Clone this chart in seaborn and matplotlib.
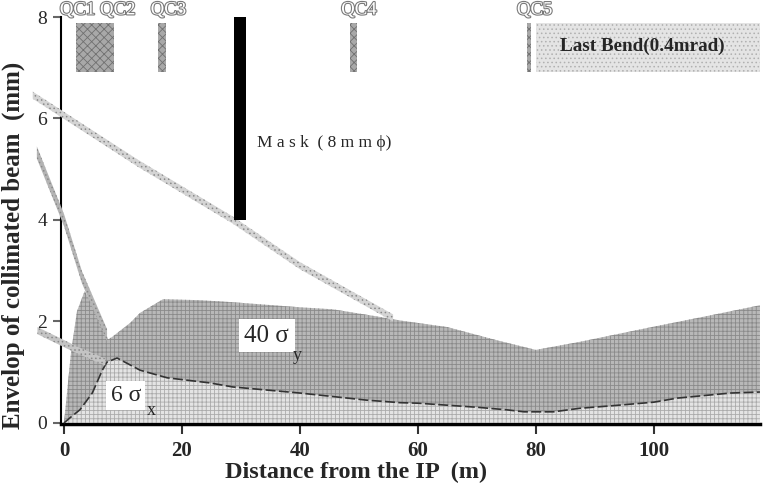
import numpy as np
import matplotlib
matplotlib.use("Agg")
import matplotlib.pyplot as plt
import matplotlib.patheffects as pe
import seaborn as sns

# 40 sigma_y envelope (mm) against distance from the IP (m)
sy_dist = [0, 1.2, 2.2, 3.5, 5.0, 7.5, 8.1, 11.2, 12.9, 16.8, 23, 28.6, 40, 45.6,
           53.6, 57, 65, 73.4, 80, 87.5, 98.8, 110, 118]
sy_env = [0, 1.4, 2.2, 2.6, 2.3, 1.65, 1.69, 1.97, 2.17, 2.44, 2.42, 2.38, 2.28, 2.24,
          2.09, 2.02, 1.89, 1.63, 1.44, 1.6, 1.87, 2.13, 2.32]

# 6 sigma_x envelope (mm)
sx_dist = [0, 1.0, 2.7, 4.8, 6.5, 7.3, 9.0, 12.9, 17.5, 24.7, 28.6, 40, 51.3, 57,
           60, 65, 70, 75, 78, 83, 87.5, 93, 100, 104, 113, 118]
sx_env = [0, 0.1, 0.26, 0.59, 1.04, 1.2, 1.28, 1.04, 0.89, 0.79, 0.71, 0.59, 0.45, 0.40,
          0.39, 0.35, 0.31, 0.26, 0.22, 0.22, 0.29, 0.34, 0.41, 0.49, 0.59, 0.61]

# radiation fans (centre lines)
fan_a_dist = [-5.3, 12.5, 28.6, 40, 55.8]
fan_a_y = [6.46, 5.12, 4.0, 3.1, 2.07]
fan_b_dist = [-4.6, 0, 3.05, 7.3]
fan_b_y = [5.33, 4.0, 2.87, 1.73]
fan_c_dist = [-4.5, 2.2, 7.0]
fan_c_y = [1.82, 1.44, 1.2]

# magnets
magnet_names = ["QC1 QC2", "QC3", "QC4", "QC5"]
magnet_start = [2.0, 16.0, 48.5, 78.5]
magnet_end = [8.5, 17.3, 49.7, 79.2]
magnet_label_x = [5.7, 17.7, 50.0, 79.8]
bend_start, bend_end = 80.0, 118.0
bend_label = "Last Bend(0.4mrad)"

mask_start, mask_end = 28.8, 30.8
mask_bottom, mask_top = 4.0, 8.0

sns.set_theme(style="ticks")
plt.rcParams["font.family"] = ["Liberation Serif", "DejaVu Serif"]
plt.rcParams["hatch.linewidth"] = 0.6

fig = plt.figure(figsize=(7.63, 4.9), dpi=100)
ax = fig.add_axes([0.080, 0.1347, 0.916, 0.8306])

# envelopes
ax.fill_between(sy_dist, 0, sy_env, facecolor="#b8b8b8", edgecolor="#8a8a8a",
                hatch="++++", linewidth=0, zorder=2)
ax.fill_between(sx_dist, 0, sx_env, facecolor="#e4e4e4", edgecolor="#ababab",
                hatch="++++", linewidth=0, zorder=3)
sns.lineplot(x=sx_dist, y=sx_env, ax=ax, color="#333333", lw=1.2,
             linestyle=(0, (6, 2)), zorder=4)

# fans
for d, y, w, fc in [(fan_a_dist, fan_a_y, 0.07, "#d4d4d4"),
                    (fan_b_dist, fan_b_y, 0.12, "#b4b4b4"),
                    (fan_c_dist, fan_c_y, 0.07, "#c4c4c4")]:
    y = np.array(y)
    ax.fill_between(d, y - w, y + w, facecolor=fc, edgecolor="#8a8a8a",
                    hatch="....", linewidth=0, zorder=5, clip_on=False)

# magnets
for name, s, e, lx in zip(magnet_names, magnet_start, magnet_end, magnet_label_x):
    ax.fill_between([s, e], 6.92, 7.88, facecolor="#a8a8a8", edgecolor="#707070",
                    hatch="xxxx", linewidth=0, zorder=3)
    ax.text(lx, 8.14, name, ha="center", va="center", fontsize=13.5, color="white",
            path_effects=[pe.withStroke(linewidth=1.6, foreground="#7a7a7a")],
            clip_on=False)
ax.fill_between([bend_start, bend_end], 6.92, 7.88, facecolor="#e4e4e4",
                edgecolor="#b0b0b0", hatch="....", linewidth=0, zorder=3, clip_on=False)
ax.text(98, 7.42, bend_label, ha="center", va="center", fontsize=13.8,
        fontweight="bold", zorder=6)

# mask
ax.fill_between([mask_start, mask_end], mask_bottom, mask_top, color="black",
                linewidth=0, zorder=6)
ax.text(32.7, 5.52, "M a s k  ( 8 m m ϕ)", ha="left", va="center", fontsize=12.5, zorder=6)

# beam labels
ax.text(30.6, 1.72, "40 σ", ha="left", va="center", fontsize=18, zorder=7,
        bbox=dict(facecolor="white", edgecolor="none", pad=4))
ax.text(38.8, 1.33, "y", ha="left", va="center", fontsize=13, zorder=7)
ax.text(7.9, 0.54, "6 σ", ha="left", va="center", fontsize=17, zorder=7,
        bbox=dict(facecolor="white", edgecolor="none", pad=3))
ax.text(14.1, 0.24, "x", ha="left", va="center", fontsize=13, zorder=7)

ax.set_xlim(-0.5, 118)
ax.set_ylim(-0.02, 8)
ax.set_xticks([0, 20, 40, 60, 80, 100])
ax.set_yticks([0, 2, 4, 6, 8])
ax.tick_params(axis="y", direction="out", length=6, width=1.5, color="#666666",
               labelsize=14, pad=4)
ax.tick_params(axis="x", direction="out", length=7, width=1.5, color="#333333",
               labelsize=15, pad=5)
for lab in ax.get_xticklabels():
    lab.set_fontweight("bold")
sns.despine(ax=ax)
ax.spines["left"].set_linewidth(1.5)
ax.spines["left"].set_color("black")
ax.spines["bottom"].set_linewidth(2.5)
ax.spines["bottom"].set_color("black")
ax.set_xlabel("Distance from the IP  (m)", fontsize=17.5, fontweight="bold")
ax.set_ylabel("Envelop of collimated beam  (mm)", fontsize=18, fontweight="bold")
ax.xaxis.set_label_coords(0.422, -0.093)
ax.yaxis.set_label_coords(-0.052, 0.44)
ax.grid(False)

fig.savefig("out.png", dpi=100)
